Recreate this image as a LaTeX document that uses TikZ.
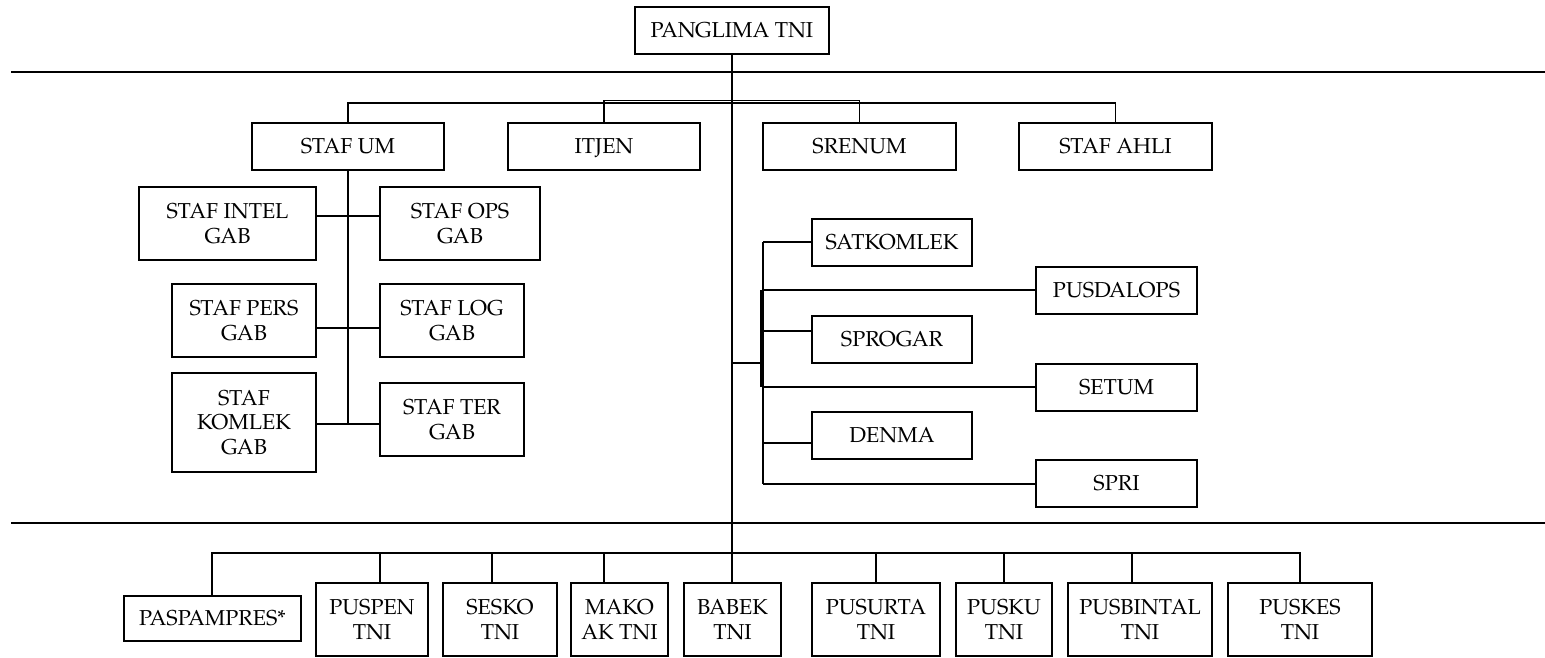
\documentclass[tikz,border=0pt]{standalone}
\usepackage{fontspec}
\setmainfont{TeX Gyre Pagella}
\begin{document}
\begin{tikzpicture}[x=1pt,y=-1pt,
  box/.style={draw, line width=1.9pt, inner sep=0pt, align=center,
    font=\fontsize{21.6}{24.5}\selectfont},
  conn/.style={line width=1.9pt},
  rule/.style={line width=2.7pt}]
\useasboundingbox (0,0) rectangle (1545,657);
% top
\node[box, minimum width=194pt, minimum height=47pt] (pang) at (732,30.5) {PANGLIMA TNI};
\coordinate (r1l) at (11,72); \coordinate (r1r) at (1545,72);
\draw[rule] (r1l) -- (r1r);
\coordinate (r2l) at (11,523); \coordinate (r2r) at (1545,523);
\draw[rule] (r2l) -- (r2r);
% first row
\node[box, minimum width=192pt, minimum height=47pt] (stafum) at (348,146.5) {STAF UM};
\node[box, minimum width=192pt, minimum height=47pt, text depth=0pt] (itjen) at (604,146.5) {ITJEN};
\node[box, minimum width=193pt, minimum height=47pt] (srenum) at (859.5,146.5) {SRENUM};
\node[box, minimum width=193pt, minimum height=47pt] (ahli) at (1115.5,146.5) {STAF AHLI};
\coordinate (tb) at (0,103);
\coordinate (tb2) at (0,100.5);
\draw[conn] (stafum.north) -- (stafum.north |- tb) -- (ahli.north |- tb) -- (ahli.north);
\draw[conn] (itjen.north) -- (itjen.north |- tb2) -- (srenum.north |- tb2) -- (srenum.north);
% staf um children
\node[box, minimum width=177pt, minimum height=73pt] (intel) at (227.5,223.5) {STAF INTEL\\GAB};
\node[box, minimum width=160pt, minimum height=73pt] (ops) at (460,223.5) {STAF OPS\\GAB};
\node[box, minimum width=144pt, minimum height=73pt] (pers) at (244,320.5) {STAF PERS\\GAB};
\node[box, minimum width=144pt, minimum height=73pt] (log) at (452,320.5) {STAF LOG\\GAB};
\node[box, minimum width=144pt, minimum height=99pt] (komlek) at (244,422.5) {STAF\\KOMLEK\\GAB};
\node[box, minimum width=144pt, minimum height=73pt] (ter) at (452,419.5) {STAF TER\\GAB};
\coordinate (ua) at (348,216);
\coordinate (ub) at (348,328);
\coordinate (uc) at (348,424);
\draw[conn] (stafum.south) -- (uc);
\draw[conn] (intel.east |- ua) -- (ops.west |- ua);
\draw[conn] (pers.east |- ub) -- (log.west |- ub);
\draw[conn] (komlek.east |- uc) -- (ter.west |- uc);
% right cluster
\node[box, minimum width=160pt, minimum height=47pt] (satk) at (892,242.5) {SATKOMLEK};
\node[box, minimum width=161pt, minimum height=47pt] (pusd) at (1116.5,290.5) {PUSDALOPS};
\node[box, minimum width=160pt, minimum height=47pt] (sprog) at (892,339.5) {SPROGAR};
\node[box, minimum width=161pt, minimum height=47pt] (setum) at (1116.5,387.5) {SETUM};
\node[box, minimum width=160pt, minimum height=47pt] (denma) at (892,435.5) {DENMA};
\node[box, minimum width=161pt, minimum height=47pt] (spri) at (1116.5,483.5) {SPRI};
\coordinate (rv) at (763,363);
\coordinate (rs1) at (763,242);
\coordinate (rs2) at (763,290);
\coordinate (rs3) at (763,331);
\coordinate (rs4) at (763,387);
\coordinate (rs5) at (763,443);
\coordinate (rs6) at (763,484);
\coordinate (rt1) at (761,290);
\coordinate (rt2) at (761,387);
\draw[conn] (pang.south |- rv) -- (rv);
\draw[conn] (rs1) -- (rs6);
\draw[conn] (rt1) -- (rt2);
\draw[conn] (rs1) -- (satk.west |- rs1);
\draw[conn] (rs2) -- (pusd.west |- rs2);
\draw[conn] (rs3) -- (sprog.west |- rs3);
\draw[conn] (rs4) -- (setum.west |- rs4);
\draw[conn] (rs5) -- (denma.west |- rs5);
\draw[conn] (rs6) -- (spri.west |- rs6);
% bottom row
\node[box, minimum width=177pt, minimum height=45pt] (pasp) at (212.5,618.5) {PASPAMPRES*};
\node[box, minimum width=112pt, minimum height=73pt] (puspen) at (372,619.5) {PUSPEN\\TNI};
\node[box, minimum width=114pt, minimum height=73pt] (sesko) at (500,619.5) {SESKO\\TNI};
\node[box, minimum width=97pt, minimum height=73pt] (mako) at (619.5,619.5) {MAKO\\AK TNI};
\node[box, minimum width=97pt, minimum height=73pt] (babek) at (732.5,619.5) {BABEK\\TNI};
\node[box, minimum width=128pt, minimum height=73pt] (pusurta) at (876,619.5) {PUSURTA\\TNI};
\node[box, minimum width=96pt, minimum height=73pt] (pusku) at (1004,619.5) {PUSKU\\TNI};
\node[box, minimum width=144pt, minimum height=73pt] (pusbin) at (1140,619.5) {PUSBINTAL\\TNI};
\node[box, minimum width=144pt, minimum height=73pt] (puskes) at (1300,619.5) {PUSKES\\TNI};
\coordinate (b1) at (212,553);
\coordinate (b2) at (380,553);
\coordinate (b3) at (492,553);
\coordinate (b4) at (604,553);
\coordinate (b5) at (732,553);
\coordinate (b6) at (876,553);
\coordinate (b7) at (1004,553);
\coordinate (b8) at (1132,553);
\coordinate (b9) at (1300,553);
\draw[conn] (pang.south) -- (b5 |- babek.north);
\draw[conn] (b1 |- pasp.north) -- (b1) -- (b9) -- (b9 |- puskes.north);
\draw[conn] (b2) -- (b2 |- puspen.north);
\draw[conn] (b3) -- (b3 |- sesko.north);
\draw[conn] (b4) -- (b4 |- mako.north);
\draw[conn] (b6) -- (b6 |- pusurta.north);
\draw[conn] (b7) -- (b7 |- pusku.north);
\draw[conn] (b8) -- (b8 |- pusbin.north);
\end{tikzpicture}
\end{document}
